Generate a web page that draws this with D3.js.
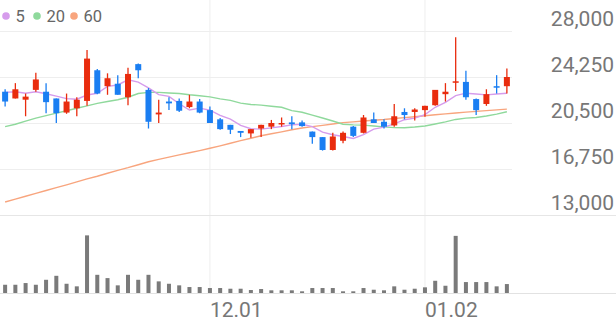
<!DOCTYPE html>
<html>
<head>
<meta charset="utf-8">
<script src="https://cdn.jsdelivr.net/npm/d3@7"></script>
<style>
  html, body { margin: 0; padding: 0; background: #fff; }
  svg { display: block; font-family: Roboto, "Noto Sans", sans-serif; }
</style>
</head>
<body>
<svg id="chart" width="616" height="321"></svg>
<script>
const dates = ["11.03","11.04","11.07","11.08","11.09","11.10","11.11","11.14","11.15","11.16",
  "11.17","11.18","11.21","11.22","11.23","11.24","11.25","11.28","11.29","11.30",
  "12.01","12.02","12.05","12.06","12.07","12.08","12.09","12.12","12.13","12.14",
  "12.15","12.16","12.19","12.20","12.21","12.22","12.23","12.26","12.27","12.28",
  "12.29","01.02","01.03","01.04","01.05","01.06","01.09","01.10","01.11","01.12"];
const openP  = [23050,22500,22400,23200,23050,22500,21350,21700,22300,24800,
  23500,23700,22600,25300,23200,21200,22250,22300,21800,22250,
  21550,20800,20350,19850,19650,20050,20200,20400,20550,20550,
  19800,19350,18300,19050,20200,19700,20800,20600,20300,21400,
  21400,21550,21950,22850,23800,23850,22450,22050,23500,23500];
const highP  = [23250,23750,22900,24600,23750,22500,22900,22600,26450,24900,
  24550,24400,25000,25350,23350,22400,22600,22500,22800,22450,
  21850,20900,20350,19850,20000,20350,20750,20950,21050,20700,
  19800,19350,19700,19800,20250,21150,21350,20800,22050,21700,
  21700,21900,23200,23750,27500,24750,22500,23250,24400,24950];
const lowP   = [21850,22500,21050,23050,21300,20500,21250,21050,21900,22850,
  22800,22800,21950,24150,20050,20500,21550,21400,21700,21300,
  20500,19950,19600,19350,19300,19350,20000,20200,20000,20200,
  18800,18250,18250,18850,19350,19650,20500,20050,20200,20800,
  20700,21000,21900,22250,23100,22400,21150,21900,22900,22900];
const closeP = [22250,23250,22650,24050,22200,21300,22250,22400,25750,22900,
  24150,22800,24500,24800,20600,21350,22100,21500,22250,21350,
  20500,20000,19950,19700,20000,20350,20500,20500,20400,20250,
  19350,18300,19400,19700,19450,20950,20500,20200,21050,21150,
  21600,21900,23200,23050,23900,22600,21550,22850,23400,24250];
const volume = [166,166,200,166,266,346,186,134,1160,366,
  300,154,366,266,366,234,186,154,120,120,
  100,100,86,86,60,80,54,54,54,34,
  100,100,100,34,34,100,66,54,134,66,
  86,114,246,146,1150,220,220,220,134,180];
const ma5  = [23000,23050,22920,23050,22880,22690,22490,22440,22780,22920,
  23490,23600,24020,23830,23370,22810,22670,22070,21560,21710,
  21540,21120,20810,20300,20030,20000,20100,20210,20350,20400,
  20200,19760,19540,19400,19240,19560,20000,20160,20430,20770,
  20900,21180,21780,22180,22730,22930,22860,22790,22860,22930];
const ma20 = [20200,20400,20650,20900,21100,21300,21500,21700,21900,22100,
  22250,22400,22600,22900,23000,23000,22950,22900,22800,22720,
  22630,22470,22340,22120,22010,21960,21870,21780,21510,21380,
  21140,20910,20660,20400,20350,20330,20250,20180,20120,20110,
  20170,20260,20420,20590,20790,20900,20950,21070,21220,21420];
const ma60 = [14060,14300,14525,14760,15000,15230,15460,15700,15940,16160,
  16400,16640,16860,17100,17340,17540,17720,17900,18070,18250,
  18440,18640,18850,19060,19260,19460,19620,19780,19950,20090,
  20200,20310,20420,20530,20590,20660,20730,20790,20870,20940,
  21010,21090,21170,21240,21320,21390,21450,21510,21570,21630];
const priceTicks = [28000, 24250, 20500, 16750, 13000];
const dateTicks = ["12.01", "01.02"];
const legendItems = ["5", "20", "60"];

const RED = "#e92c0e", BLUE = "#1a7ef2";
const maColors = ["#d69cec", "#8fd99c", "#f8a57e"];
const GRID = "#eeeeee";

const svg = d3.select("#chart");
const W = 616, plotR = 512;

const x = d3.scaleBand().domain(d3.range(dates.length)).range([0, plotR]);
const cx = i => x(i) + x.bandwidth() / 2;
const y = d3.scaleLinear().domain([13000, 28000]).range([215, 31]);
const yv = d3.scaleLinear().domain([0, 1570]).range([293, 215]);

// vertical grid
const vIdx = dateTicks.map(d => dates.indexOf(d));
svg.append("g").selectAll("line").data(vIdx).join("line")
  .attr("x1", i => cx(i)).attr("x2", i => cx(i))
  .attr("y1", 0).attr("y2", 293)
  .attr("stroke", GRID).attr("stroke-width", 1);

// horizontal grid
svg.append("g").selectAll("line").data(priceTicks).join("line")
  .attr("x1", 0).attr("x2", d => d === 13000 ? W : plotR)
  .attr("y1", d => Math.round(y(d)) + 0.5).attr("y2", d => Math.round(y(d)) + 0.5)
  .attr("stroke", d => d === 13000 ? "#e6e6e6" : GRID).attr("stroke-width", 1);
svg.append("line").attr("x1", 0).attr("x2", W)
  .attr("y1", 293.5).attr("y2", 293.5).attr("stroke", "#e2e2e2");

// MA lines
[ma60, ma20, ma5].forEach((arr, k) => {
  const col = maColors[2 - k];
  svg.append("path").datum(arr)
    .attr("fill", "none").attr("stroke", col).attr("stroke-width", 1.4)
    .attr("d", d3.line().x((d, i) => cx(i)).y(d => y(d)));
});

// candles
const candles = svg.append("g").selectAll("g").data(dates.map((d, i) => i)).join("g");
candles.append("line")
  .attr("x1", i => cx(i)).attr("x2", i => cx(i))
  .attr("y1", i => y(highP[i])).attr("y2", i => y(lowP[i]))
  .attr("stroke", i => closeP[i] >= openP[i] ? RED : BLUE).attr("stroke-width", 1.3);
candles.append("rect")
  .attr("x", i => cx(i) - 3).attr("width", 6)
  .attr("y", i => y(Math.max(openP[i], closeP[i])))
  .attr("height", i => Math.max(1.5, Math.abs(y(openP[i]) - y(closeP[i]))))
  .attr("fill", i => closeP[i] >= openP[i] ? RED : BLUE);

// volume
svg.append("g").selectAll("rect").data(volume).join("rect")
  .attr("x", (d, i) => cx(i) - 2).attr("width", 4)
  .attr("y", d => yv(d)).attr("height", d => yv(0) - yv(d))
  .attr("fill", "#7a7a7a");

// y axis labels
const yAxis = d3.axisRight(y).tickValues(priceTicks).tickFormat(d3.format(",")).tickSize(0);
const gy = svg.append("g").attr("transform", `translate(614,0)`).call(yAxis);
gy.select(".domain").remove();
gy.selectAll("text").attr("x", 0).attr("dy", null).attr("y", -5.5)
  .attr("text-anchor", "end").attr("fill", "#777").style("font-size", "21px")
  .style("font-family", "Roboto, sans-serif");

// x axis labels
const xAxis = d3.axisBottom(x).tickValues(vIdx).tickFormat(i => dates[i]).tickSize(0);
const gx = svg.append("g").attr("transform", `translate(0,0)`).call(xAxis);
gx.select(".domain").remove();
gx.selectAll(".tick").attr("transform", i => `translate(${cx(i)},0)`);
gx.selectAll("text").attr("x", 0).attr("dy", null).attr("y", 317)
  .attr("text-anchor", "start").attr("fill", "#777").style("font-size", "21px")
  .style("font-family", "Roboto, sans-serif");

// legend
const legend = svg.append("g");
const legendX = [6, 37, 74];
legendItems.forEach((t, k) => {
  legend.append("circle").attr("cx", legendX[k]).attr("cy", 16).attr("r", 3.8).attr("fill", maColors[k]);
  legend.append("text").attr("x", legendX[k] + 9.5).attr("y", 21.5).text(t)
    .attr("fill", "#666").style("font-size", "16.5px");
});
</script>
</body>
</html>
